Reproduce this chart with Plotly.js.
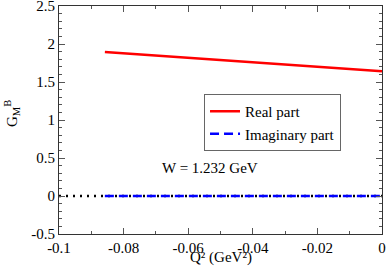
<!DOCTYPE html>
<html>
<head>
<meta charset="utf-8">
<script src="https://cdn.plot.ly/plotly-3.0.1.min.js"></script>
<style>html,body{margin:0;padding:0;background:#fff;}#chart{width:388px;height:276px;}</style>
</head>
<body>
<div id="chart"></div>
<script>
const realX = [-0.0858, -0.043, 0];
const realY = [1.895, 1.768, 1.64];
const imagX = [-0.0858, -0.043, 0];
const imagY = [0, 0, 0];
const zeroX = [-0.1, 0];
const zeroY = [0, 0];
const xTickVals = [-0.1, -0.08, -0.06, -0.04, -0.02, 0];
const xTickText = ["-0.1", "-0.08", "-0.06", "-0.04", "-0.02", "0"];
const yTickVals = [-0.5, 0, 0.5, 1, 1.5, 2, 2.5];
const yTickText = ["-0.5", "0", "0.5", "1", "1.5", "2", "2.5"];
const annText = "W = 1.232 GeV";
const xTitle = "Q\u00B2 (GeV\u00B2)";
const yTitle = "G<sub>M</sub><sup>B</sup>";

const font = "Liberation Serif";
const traces = [
  {x: zeroX, y: zeroY, mode: "lines", line: {color: "black", width: 2.5, dash: "2px,5px"}, showlegend: false, hoverinfo: "skip"},
  {x: realX, y: realY, mode: "lines", name: "Real part", line: {color: "#ff0000", width: 2.5}},
  {x: imagX, y: imagY, mode: "lines", name: "Imaginary part", line: {color: "#0000ff", width: 2.5, dash: "9px,5px"}}
];
const axisCommon = {
  showgrid: false, zeroline: false, showline: true, linecolor: "#333", linewidth: 1,
  mirror: "ticks", ticks: "inside", ticklen: 6, tickcolor: "#555", tickwidth: 1,
  ticklabeloverflow: "allow",
  tickfont: {family: font, size: 15, color: "black"}
};
const layout = {
  width: 388, height: 276,
  margin: {l: 59, r: 6, t: 6, b: 42},
  paper_bgcolor: "white", plot_bgcolor: "white",
  showlegend: true,
  xaxis: Object.assign({}, axisCommon, {
    range: [-0.1, 0], tickmode: "array", tickvals: xTickVals, ticktext: xTickText,
    minor: {dtick: 0.01, ticks: "inside", ticklen: 3, tickcolor: "#555"}
  }),
  yaxis: Object.assign({}, axisCommon, {
    range: [-0.5, 2.5], tickmode: "array", tickvals: yTickVals, ticktext: yTickText,
    minor: {dtick: 0.1, ticks: "inside", ticklen: 3, tickcolor: "#555"}
  }),
  legend: {
    x: 0.449, y: 0.614, xanchor: "left", yanchor: "top",
    bgcolor: "white", bordercolor: "#666", borderwidth: 1,
    font: {family: font, size: 15, color: "black"}
  },
  annotations: [
    {x: -0.0533, y: 0.37, xref: "x", yref: "y", text: annText, showarrow: false,
     font: {family: font, size: 15, color: "black"}},
    {x: 0.5, y: -0.101, xref: "paper", yref: "paper", text: xTitle, showarrow: false,
     xanchor: "center", yanchor: "middle", borderpad: 0, font: {family: font, size: 15, color: "black"}},
    {x: -0.146, y: 0.53, xref: "paper", yref: "paper", text: yTitle, showarrow: false, textangle: -90,
     xanchor: "center", yanchor: "middle", font: {family: font, size: 15, color: "black"}}
  ]
};
Plotly.newPlot("chart", traces, layout, {displayModeBar: false, staticPlot: true});
</script>
</body>
</html>
